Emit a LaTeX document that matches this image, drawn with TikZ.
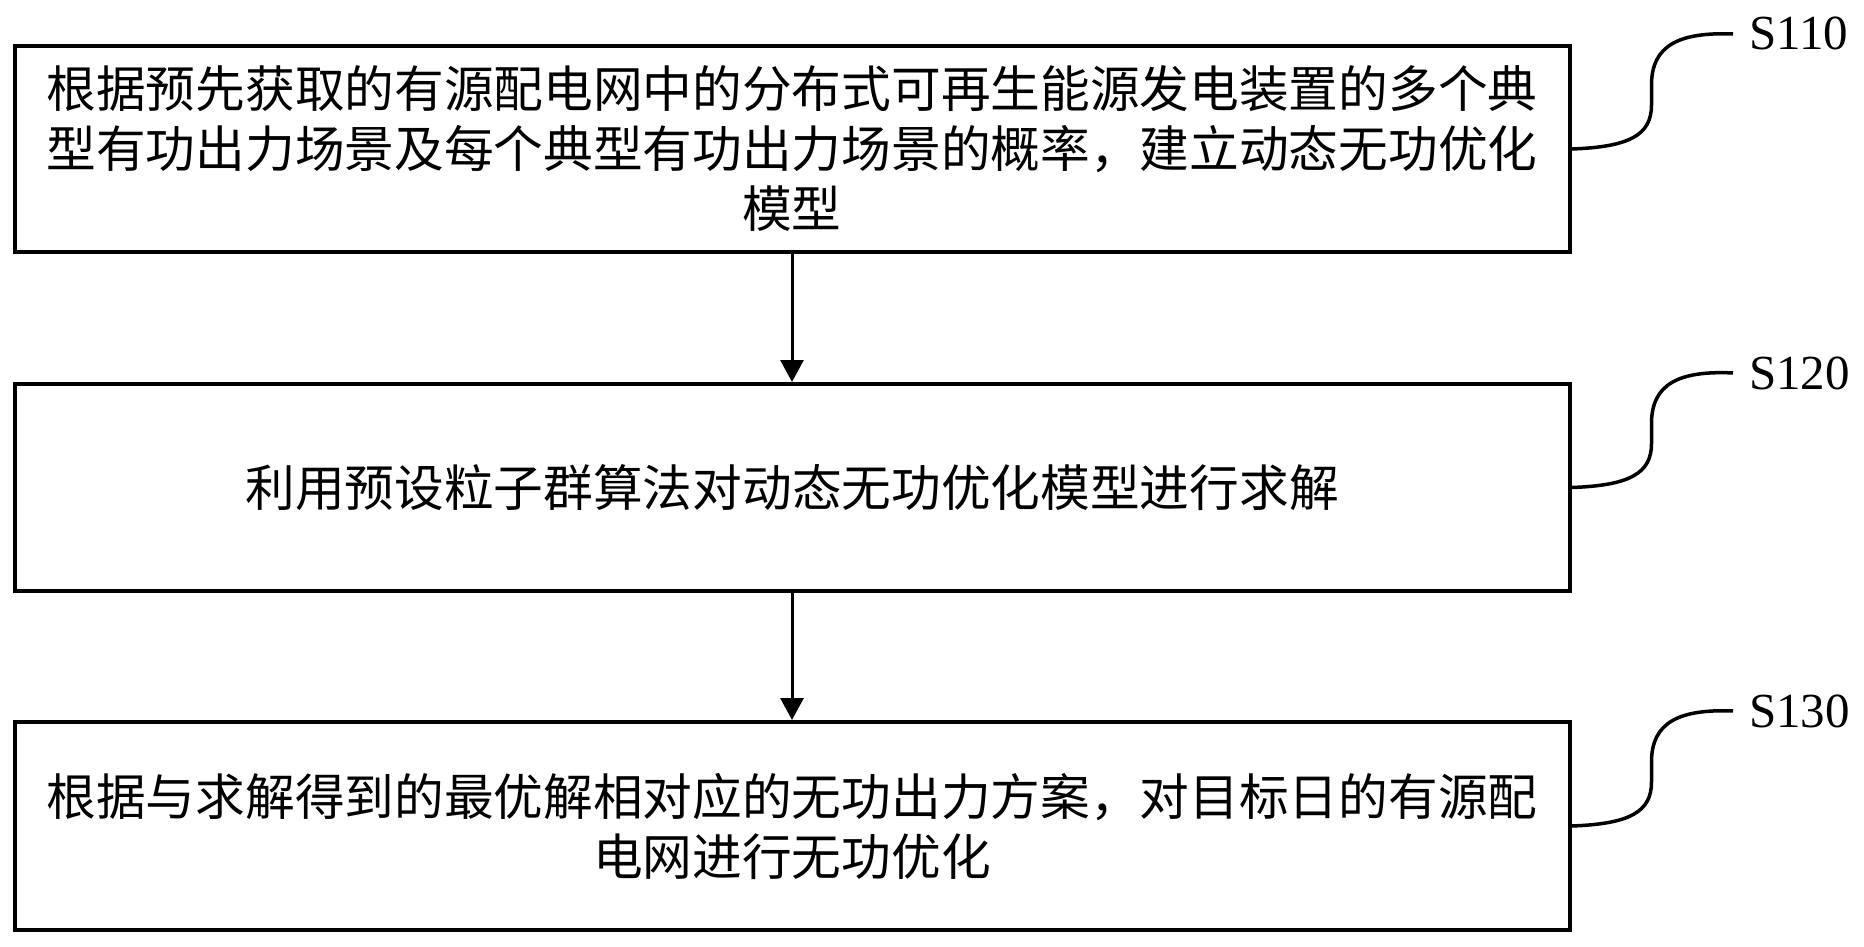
\documentclass[tikz,border=0pt]{standalone}
\usepackage{fontspec}
\setmainfont{Liberation Serif}
\newfontfamily\cjk{Noto Sans CJK SC}
\usetikzlibrary{arrows.meta,calc}
\begin{document}
\begin{tikzpicture}[x=1pt,y=-1pt,
  stepbox/.style={draw=black,line width=4pt,minimum width=1555pt,minimum height=206pt,
    inner sep=0pt,align=center,font={\cjk\fontsize{49.7pt}{60pt}\selectfont}},
  lbl/.style={inner sep=0pt,anchor=base west,font={\fontsize{49pt}{55pt}\selectfont}},
  flow/.style={line width=3pt,-{Triangle[width=23pt,length=22pt]}},
  tie/.style={line width=3.5pt}]
\useasboundingbox (0,0) rectangle (1864,947);
\node[stepbox] (b1) at (792,149) {根据预先获取的有源配电网中的分布式可再生能源发电装置的多个典\\型有功出力场景及每个典型有功出力场景的概率，建立动态无功优化\\模型};
\node[stepbox,minimum height=207pt] (b2) at (792,487.5) {利用预设粒子群算法对动态无功优化模型进行求解};
\node[stepbox,minimum height=208pt] (b3) at (792,826) {根据与求解得到的最优解相对应的无功出力方案，对目标日的有源配\\电网进行无功优化};
\node[lbl] (l1) at (1749,50) {S110};
\node[lbl] (l2) at (1749,389) {S120};
\node[lbl] (l3) at (1749,727) {S130};
\draw[flow] (b1.south) -- (b2.north);
\draw[flow] (b2.south) -- (b3.north);
\foreach \b/\l in {b1/l1,b2/l2,b3/l3}{
  \draw[tie] (\b.east) .. controls ($(\b.east)+(58,-2)$) and ($(\b.east)+(80,-14)$) .. ($(\b.east)+(80,-44)$)
     -- ($(\b.east)+(80,-64)$)
     .. controls ($(\b.east)+(80,-104)$) and ($(\b.east)+(108,-117)$) .. ($(\l.west)+(-16,0)$);
}
\end{tikzpicture}
\end{document}
